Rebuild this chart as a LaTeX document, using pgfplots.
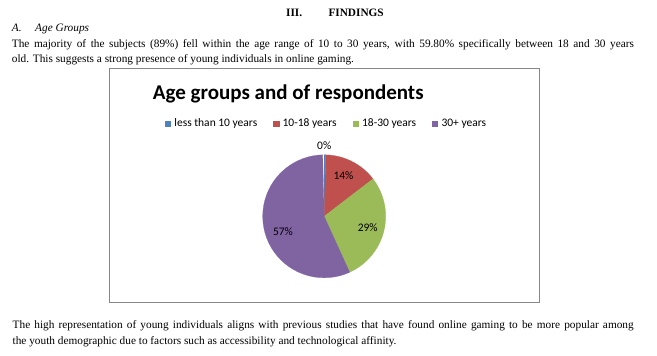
\documentclass[border=0pt]{standalone}
\usepackage{pgfplots}
\pgfplotsset{compat=1.18}
\usepgfplotslibrary{polar}
\usepackage{fontspec}
\setmainfont{Liberation Serif}
\newfontfamily\calibri{Carlito}
\definecolor{xblue}{HTML}{4F81BD}
\definecolor{xred}{HTML}{C0504D}
\definecolor{xgreen}{HTML}{9BBB59}
\definecolor{xpurple}{HTML}{8064A2}
\definecolor{boxgray}{HTML}{878787}
\begin{document}
\begin{tikzpicture}
\path[use as bounding box] (0pt,0pt) rectangle (657pt,-356pt);
\begin{scope}[x=1pt,y=-1pt]
  \fill[white] (0,0) rectangle (657,356);
  \def\body{\fontsize{11.3}{13}\selectfont}
  \node[anchor=base west,inner sep=0] at (286,16.7) {\body\bfseries III.};
  \node[anchor=base west,inner sep=0] at (328.3,16.7) {\body\bfseries FINDINGS};
  \node[anchor=base west,inner sep=0] at (11.7,31.5) {\body\itshape A.};
  \node[anchor=base west,inner sep=0] at (35,31.5) {\body\itshape Age Groups};
  \node[anchor=base west,inner sep=0] at (11.7,47.2) {\body\makebox[622pt][s]{The majority of the subjects (89\%) fell within the age range of 10 to 30 years, with 59.80\% specifically between 18 and 30 years}};
  \node[anchor=base west,inner sep=0] at (11.7,62.6) {\body old. This suggests a strong presence of young individuals in online gaming.};
  \node[anchor=base west,inner sep=0] at (12.5,328.5) {\body\makebox[621pt][s]{The high representation of young individuals aligns with previous studies that have found online gaming to be more popular among}};
  \node[anchor=base west,inner sep=0] at (12.5,344.5) {\body the youth demographic due to factors such as accessibility and technological affinity.};
  \draw[boxgray,line width=0.9pt] (109.5,68.5) rectangle (539,302.5);
  \node[anchor=base west,inner sep=0] at (152.7,99) {\calibri\bfseries\fontsize{21}{25}\selectfont Age groups and of respondents};
\end{scope}
% Values (percent): less than 10 years 0.4, 10-18 years 14.2, 18-30 years 28.6, 30+ years 56.8
% Slices start at 12 o'clock (90 deg) and run clockwise; angle = 90 - 3.6*cumulative percent
\begin{polaraxis}[
  at={(324.2pt,-216.3pt)}, anchor=origin,
  width=123pt, height=123pt, scale only axis,
  hide axis, ymin=0, ymax=1, enlargelimits=false, clip=false,
  legend columns=4,
  legend cell align=left,
  legend image code/.code={\fill[#1] (0pt,-2.65pt) rectangle (5.3pt,2.65pt); \path[draw=none,fill=none] (0pt,0pt) -- (9.3pt,0pt);},
  legend style={draw=none, fill=none, inner sep=0pt, outer sep=0pt,
    at={(-0.7943,1.2545)}, anchor=west,
    font=\calibri\fontsize{11.5}{13}\selectfont,
    nodes={inner sep=0pt},
    /tikz/every even column/.append style={column sep=16pt}},
]
\addplot[mark=none, fill=xblue, draw=xblue, line width=0.2pt] coordinates {
  (0,0) (90,1) (88.56,1) (0,0)};
\addlegendentry{less than 10 years}
\addplot[mark=none, fill=xred, draw=xred, line width=0.2pt] coordinates {
  (0,0) (88.56,1) (85,1) (80,1) (75,1) (70,1) (65,1) (60,1) (55,1) (50,1) (45,1) (40,1) (37.44,1) (0,0)};
\addlegendentry{10-18 years}
\addplot[mark=none, fill=xgreen, draw=xgreen, line width=0.2pt] coordinates {
  (0,0) (37.44,1) (35,1) (30,1) (25,1) (20,1) (15,1) (10,1) (5,1) (0,1) (-5,1) (-10,1) (-15,1) (-20,1) (-25,1) (-30,1) (-35,1) (-40,1) (-45,1) (-50,1) (-55,1) (-60,1) (-65,1) (-65.52,1) (0,0)};
\addlegendentry{18-30 years}
\addplot[mark=none, fill=xpurple, draw=xpurple, line width=0.2pt] coordinates {
  (0,0) (-65.52,1) (-70,1) (-75,1) (-80,1) (-85,1) (-90,1) (-95,1) (-100,1) (-105,1) (-110,1) (-115,1) (-120,1) (-125,1) (-130,1) (-135,1) (-140,1) (-145,1) (-150,1) (-155,1) (-160,1) (-165,1) (-170,1) (-175,1) (-180,1) (-185,1) (-190,1) (-195,1) (-200,1) (-205,1) (-210,1) (-215,1) (-220,1) (-225,1) (-230,1) (-235,1) (-240,1) (-245,1) (-250,1) (-255,1) (-260,1) (-265,1) (-268.56,1) (0,0)};
\addlegendentry{30+ years}
\end{polaraxis}
\begin{scope}[x=1pt,y=-1pt]
  \def\lab{\calibri\fontsize{11.5}{13}\selectfont}
  \node[anchor=base,inner sep=0] at (324.2,149.6) {\lab 0\%};
  \node[anchor=base,inner sep=0] at (343.5,179.6) {\lab 14\%};
  \node[anchor=base,inner sep=0] at (367.7,231.3) {\lab 29\%};
  \node[anchor=base,inner sep=0] at (283,235.5) {\lab 57\%};
\end{scope}
\end{tikzpicture}
\end{document}
